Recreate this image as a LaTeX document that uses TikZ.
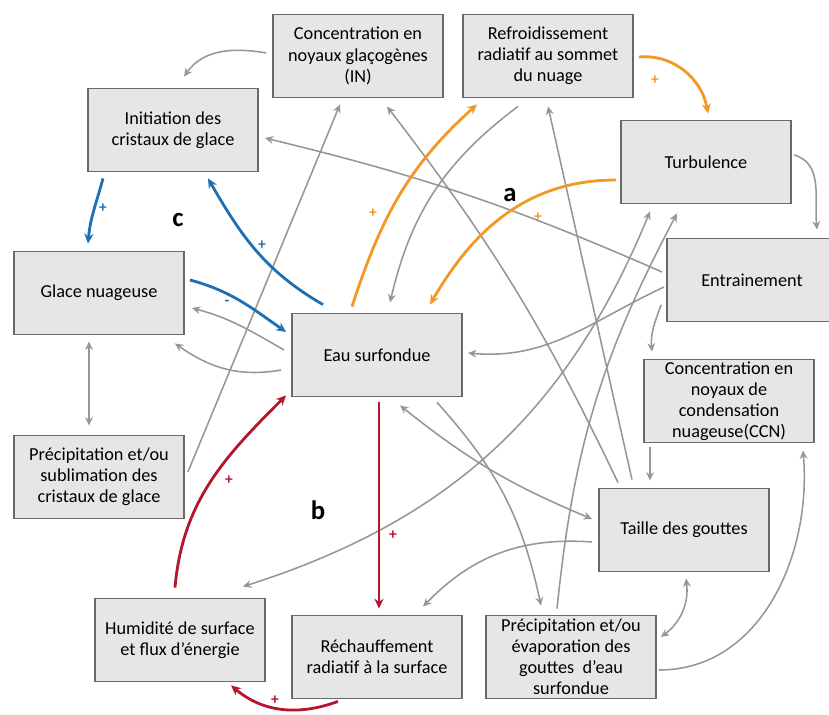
\documentclass[tikz,border=0pt]{standalone}
\usepackage{fontspec}
\setmainfont{Carlito}
\usetikzlibrary{arrows.meta, positioning, calc}
\definecolor{orng}{RGB}{242,152,38}
\definecolor{blu}{RGB}{30,112,178}
\definecolor{rd}{RGB}{180,22,45}
\definecolor{linegray}{RGB}{150,150,150}
\definecolor{boxfill}{RGB}{230,230,230}
\definecolor{boxline}{RGB}{105,105,105}

\begin{document}
\begin{tikzpicture}[
    x=0.025cm, y=0.025cm,
    box/.style={draw=boxline, fill=boxfill, line width=1.3pt,
      minimum width=4.25cm, minimum height=2.075cm, inner sep=1pt,
      align=center, font=\fontsize{13}{15}\selectfont},
    arr/.style={-{Stealth[length=6pt, width=5.5pt]}, line width=1.1pt, linegray},
    darr/.style={{Stealth[length=6pt, width=5.5pt]}-{Stealth[length=6pt, width=5.5pt]},
      line width=1.1pt, linegray},
    loopa/.style={-{Stealth[length=7pt, width=6.5pt]}, line width=2pt},
    sign/.style={font=\bfseries\fontsize{11}{11}\selectfont},
    tag/.style={font=\bfseries\fontsize{19}{19}\selectfont}
]
\useasboundingbox (0,0) rectangle (829,-715);
\clip (0,0) rectangle (829,-715);
% boxes
\node[box] (in)      at (358,-56)   {Concentration en\\noyaux glaçogènes\\(IN)};
\node[box] (refroid) at (548,-56)   {Refroidissement\\radiatif au sommet\\du nuage};
\node[box] (init)    at (173,-130)  {Initiation des\\cristaux de glace};
\node[box] (turb)    at (706,-162)  {Turbulence};
\node[box] (entr)    at (752,-280)  {Entrainement};
\node[box] (glace)   at (99,-293)   {Glace nuageuse};
\node[box] (eau)     at (377,-355)  {Eau surfondue};
\node[box] (ccn)     at (729,-401)  {Concentration en\\noyaux de\\condensation\\nuageuse(CCN)};
\node[box] (sublim)  at (99,-477)   {Précipitation et/ou\\sublimation des\\cristaux de glace};
\node[box] (taille)  at (684,-530)  {Taille des gouttes};
\node[box] (humid)   at (180,-640)  {Humidité de surface\\et flux d’énergie};
\node[box] (rechauf) at (377,-657)  {Réchauffement\\radiatif à la surface};
\node[box] (evap)    at (571,-657)  {Précipitation et/ou\\évaporation des\\gouttes~ d’eau\\surfondue};

% gray links
\draw[arr] ($(in.west)+(-6,3)$) to[out=170,in=55] ($(init.north)+(11,11)$);
\draw[arr] ($(sublim.east)+(3,5)$) -- ($(in.south)+(-18,-6)$);
\draw[darr] ($(glace.south)+(-10,-6)$) -- ($(sublim.north)+(-10,9)$);
\draw[arr] ($(eau.west)+(-7,5)$) to[out=150,in=-15] ($(glace.east)+(7,-15)$);
\draw[arr] ($(eau.west)+(-10,-15)$) to[out=190,in=-35] ($(glace.south east)+(-10,-8)$);
\draw[arr] ($(entr.west)+(-4,8)$) to[bend right=5] ($(init.east)+(6,-8)$);
\draw[arr] ($(taille.north)+(-66,5)$) to[bend right=6] ($(in.south)+(29,-8)$);
\draw[arr] ($(taille.north)+(-52,8)$) -- ($(refroid.south)+(0,-8)$);
\draw[arr] ($(refroid.south)+(-30,-8)$) to[bend right=20] ($(eau.north)+(13,10)$);
\draw[darr] ($(humid.north east)+(-23,11)$) to[bend right=25] ($(turb.south)+(-56,-7)$);
\draw[arr] ($(entr.west)+(-2,-7)$) to[out=205,in=-5] ($(eau.east)+(5,2)$);
\draw[arr] ($(entr.west)+(-5,-25)$) to[out=250,in=95] ($(ccn.north)+(-77,7)$);
\draw[arr] ($(evap.north)+(-14,6)$) to[bend left=11] ($(turb.south)+(-29,-9)$);
\draw[arr] ($(eau.south)+(60,-5)$) to[bend left=15] ($(evap.north)+(-30,9)$);
\draw[darr] ($(eau.south)+(23,-8)$) to[bend right=8] ($(taille.west)+(-6,11)$);
\draw[arr] ($(taille.west)+(-6,-12)$) to[bend right=25] ($(rechauf.north)+(46,8)$);
\draw[darr] ($(taille.south)+(2,-6)$) to[bend left=30] ($(evap.east)+(4,20)$);
\draw[arr] ($(evap.east)+(2,-13)$) to[out=0,in=-85] ($(ccn.south east)+(-12,-7)$);
\draw[arr] ($(ccn.south)+(-79,-4)$) -- ($(taille.north)+(-34,7)$);
\draw[arr] ($(turb.east)+(2,7)$) to[out=-15,in=95] ($(entr.north)+(65,8)$);

% loop a (orange)
\draw[loopa, orng] ($(refroid.east)+(5,-1)$) to[out=5,in=100] ($(turb.north)+(2,6)$);
\draw[loopa, orng] ($(eau.north)+(-25,6)$) to[out=72,in=222] ($(refroid.south)+(-71,-6)$);
\draw[loopa, orng] ($(turb.west)+(-4,-18)$) to[out=180,in=60] ($(eau.north)+(53,8)$);
% loop c (blue)
\draw[loopa, blu] ($(init.south)+(-70,-6)$) to[out=-105,in=85] ($(glace.north)+(-11,7)$);
\draw[loopa, blu] ($(eau.north)+(-54,8)$) to[out=150,in=-60] ($(init.south)+(35,-6)$);
\draw[loopa, blu] ($(glace.east)+(5,13)$) to[out=-15,in=145] ($(eau.west)+(-5,23)$);
% loop b (red)
\draw[loopa, rd] ($(eau.south)+(2,-5)$) -- ($(rechauf.north)+(2,6)$);
\draw[loopa, rd] ($(humid.north)+(-5,10)$) to[out=85,in=225] ($(eau.south west)+(-5,2)$);
\draw[loopa, rd] ($(rechauf.south)+(-39,-2)$) to[out=200,in=-40] ($(humid.south)+(51,-3)$);

% signs and loop tags
\node[sign, orng] (sa1) at (655,-80)  {+};
\node[sign, orng] (sa2) at (373,-213) {+};
\node[sign, orng] (sa3) at (538,-217) {+};
\node[sign, blu]  (sc1) at (103,-208) {+};
\node[sign, blu]  (sc2) at (262,-245) {+};
\node[sign, blu]  (sc3) at (227,-303) {-};
\node[sign, rd]   (sb1) at (229,-480) {+};
\node[sign, rd]   (sb2) at (393,-535) {+};
\node[sign, rd]   (sb3) at (275,-700) {+};
\node[tag] (taga) at (510,-195) {a};
\node[tag] (tagb) at (318,-510) {b};
\node[tag] (tagc) at (178,-220) {c};
\end{tikzpicture}
\end{document}
